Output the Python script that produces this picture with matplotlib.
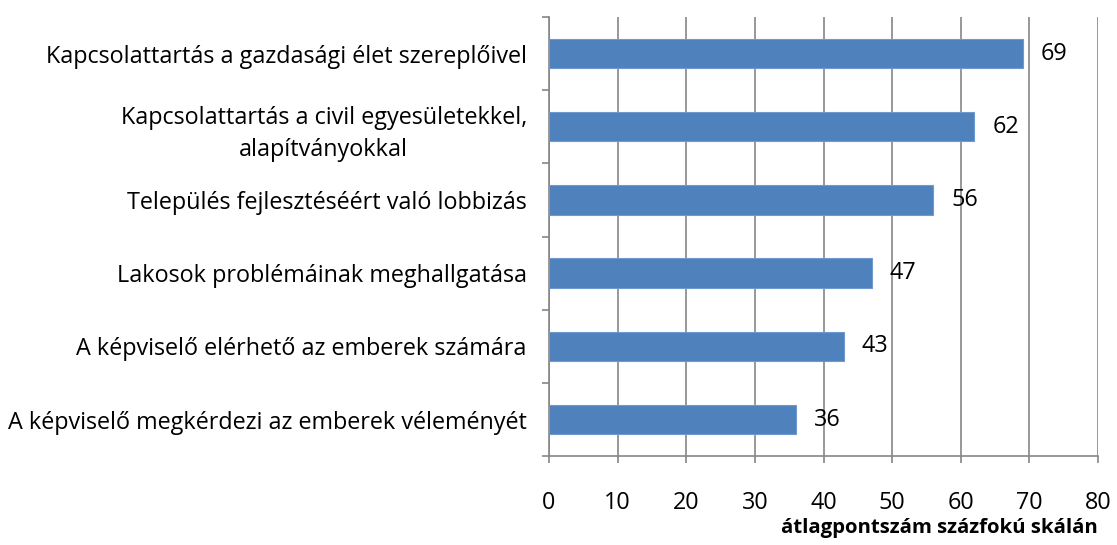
import numpy as np
import matplotlib.pyplot as plt

plt.rcParams['font.family'] = ['Open Sans', 'DejaVu Sans']

# kategóriák (felülről lefelé) és átlagpontszámok
kategoriak = [
    'Kapcsolattartás a gazdasági élet szereplőivel',
    'Kapcsolattartás a civil egyesületekkel,\nalapítványokkal',
    'Település fejlesztéséért való lobbizás',
    'Lakosok problémáinak meghallgatása',
    'A képviselő elérhető az emberek számára',
    'A képviselő megkérdezi az emberek véleményét',
]
ertekek = [69, 62, 56, 47, 43, 36]
xtick_ertekek = [0, 10, 20, 30, 40, 50, 60, 70, 80]

fs = 16.8

fig = plt.figure(figsize=(11.17, 5.45), dpi=100)
ax = fig.add_axes([0.4915, 0.163, 0.4915, 0.806])

y = np.arange(len(kategoriak))[::-1]
ax.barh(y, ertekek, height=0.4, color='#4F81BD', edgecolor='#6F9AD0', linewidth=0.8, zorder=3)

for yi, v in zip(y, ertekek):
    ax.text(v + 2.6, yi, str(v), va='center', ha='left', fontsize=fs, color='black', zorder=4)

ax.set_xlim(0, 80)
ax.set_ylim(-0.5, len(kategoriak) - 0.5)
ax.set_xticks(xtick_ertekek)
ax.set_xticklabels([str(t) for t in xtick_ertekek], fontsize=fs)
ax.set_yticks(y)
ax.set_yticklabels(kategoriak, fontsize=fs, linespacing=1.45, multialignment='center')
ax.tick_params(axis='y', length=0, pad=16)
ax.set_yticks(np.arange(-0.5, len(kategoriak), 1), minor=True)
ax.tick_params(axis='y', which='minor', length=5, color='#868686', width=1.2)
ax.tick_params(axis='x', length=5, color='#868686', width=1.2, pad=20)

ax.grid(axis='x', color='#868686', linewidth=1.2, zorder=0)
for s in ['top', 'right']:
    ax.spines[s].set_visible(False)
for s in ['left', 'bottom']:
    ax.spines[s].set_color('#868686')
    ax.spines[s].set_linewidth(1.2)

fig.text(0.983, 0.012, 'átlagpontszám százfokú skálán', ha='right', va='bottom',
         fontsize=14.7, fontweight='bold')

fig.savefig('out.png', dpi=100)
